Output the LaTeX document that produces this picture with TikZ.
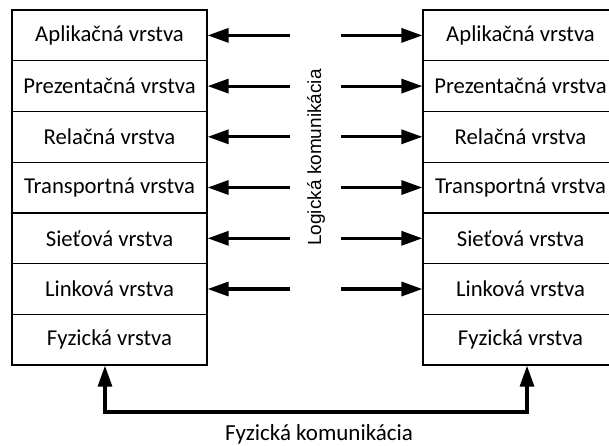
\documentclass[tikz,border=0pt]{standalone}
\usepackage{fontspec}
\setmainfont{Carlito}
\newfontfamily\arialfont{Liberation Sans}
\usetikzlibrary{arrows.meta}

\tikzset{
  layer/.style={draw, line width=1.2pt, minimum width=195pt, minimum height=50.7pt,
    inner sep=0pt, font=\fontsize{22.7}{27}\selectfont},
  conn/.style={line width=3.2pt, -{Triangle[length=21pt,width=14pt]}}
}

\begin{document}
\begin{tikzpicture}[x=1pt, y=-1pt]
		\useasboundingbox (0, 0) rectangle (609, 445);

		% left stack
		\node [layer] (l1) at (109.5, 35.4) {Aplikačná vrstva};
		\node [layer] (l2) at (109.5, 86.1) {Prezentačná vrstva};
		\node [layer] (l3) at (109.5, 136.8) {Relačná vrstva};
		\node [layer] (l4) at (109.5, 187.5) {Transportná vrstva};
		\node [layer] (l5) at (109.5, 238.3) {Sieťová vrstva};
		\node [layer] (l6) at (109.5, 289.0) {Linková vrstva};
		\node [layer] (l7) at (109.5, 339.7) {Fyzická vrstva};

		% right stack
		\node [layer] (r1) at (520.5, 35.4) {Aplikačná vrstva};
		\node [layer] (r2) at (520.5, 86.1) {Prezentačná vrstva};
		\node [layer] (r3) at (520.5, 136.8) {Relačná vrstva};
		\node [layer] (r4) at (520.5, 187.5) {Transportná vrstva};
		\node [layer] (r5) at (520.5, 238.3) {Sieťová vrstva};
		\node [layer] (r6) at (520.5, 289.0) {Linková vrstva};
		\node [layer] (r7) at (520.5, 339.7) {Fyzická vrstva};

		% logical arrows
		\coordinate (ml) at (290, 0);
		\coordinate (mr) at (341, 0);
		\draw [conn] (l1.east -| ml) -- (l1.east);
		\draw [conn] (l2.east -| ml) -- (l2.east);
		\draw [conn] (l3.east -| ml) -- (l3.east);
		\draw [conn] (l4.east -| ml) -- (l4.east);
		\draw [conn] (l5.east -| ml) -- (l5.east);
		\draw [conn] (l6.east -| ml) -- (l6.east);
		\draw [conn] (r1.west -| mr) -- (r1.west);
		\draw [conn] (r2.west -| mr) -- (r2.west);
		\draw [conn] (r3.west -| mr) -- (r3.west);
		\draw [conn] (r4.west -| mr) -- (r4.west);
		\draw [conn] (r5.west -| mr) -- (r5.west);
		\draw [conn] (r6.west -| mr) -- (r6.west);

		\node [rotate=90, font={\fontsize{19}{22}\selectfont\arialfont}] (logic)
		at (316, 157.5) {Logická komunikácia};

		% physical link
		\coordinate (pl) at (105, 412);
		\coordinate (pr) at (527, 412);
		\draw [conn, {Triangle[length=21pt,width=14pt]}-{Triangle[length=21pt,width=14pt]}]
		(l7.south -| pl) -- (pl) -- (pr) -- (r7.south -| pr);

		\node [anchor=base, font=\fontsize{23}{27}\selectfont] (phys) at (319, 440)
		{Fyzická komunikácia};
	\end{tikzpicture}
\end{document}
